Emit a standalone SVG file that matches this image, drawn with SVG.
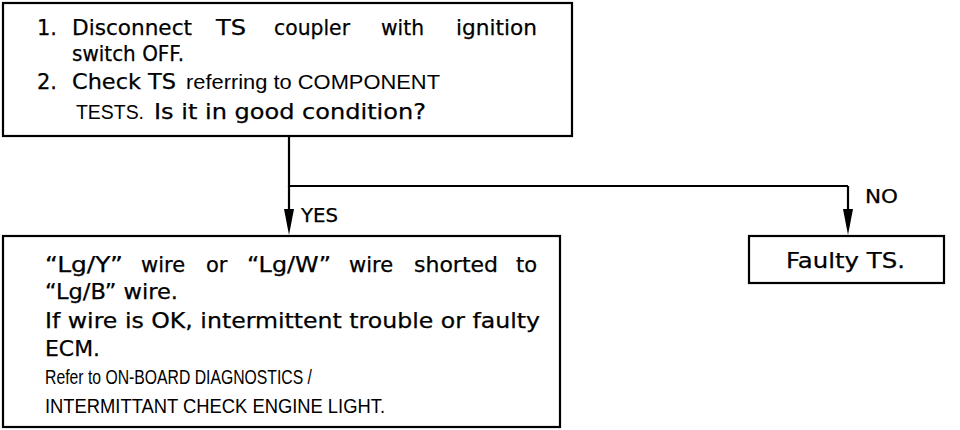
<svg xmlns="http://www.w3.org/2000/svg" width="960" height="430" viewBox="0 0 960 430">
<defs>
<style>
.box{fill:#fff;stroke:#000;stroke-width:2.2}
.t{font-family:"DejaVu Sans","Liberation Sans",Arial,sans-serif;font-size:21px;fill:#000;stroke:#000;stroke-width:0.25}
.a{font-family:"Liberation Sans",Arial,sans-serif;fill:#000}
.ln{stroke:#000;stroke-width:2.2;fill:none}
.ah{fill:#000}
</style>
</defs>
<rect width="960" height="430" fill="#fff"/>
<g id="check">
<rect class="box" x="3" y="3" width="569" height="133"/>
<text class="t" y="35"><tspan x="37">1.</tspan><tspan x="72" textLength="120" lengthAdjust="spacingAndGlyphs">Disconnect</tspan><tspan x="216" textLength="30" lengthAdjust="spacingAndGlyphs">TS</tspan><tspan x="274" textLength="76" lengthAdjust="spacingAndGlyphs">coupler</tspan><tspan x="381" textLength="43" lengthAdjust="spacingAndGlyphs">with</tspan><tspan x="456" textLength="81" lengthAdjust="spacingAndGlyphs">ignition</tspan></text>
<text class="t" x="72" y="61" textLength="112" lengthAdjust="spacingAndGlyphs">switch OFF.</text>
<text class="t" y="89"><tspan x="37">2.</tspan><tspan x="72" textLength="104" lengthAdjust="spacingAndGlyphs">Check TS</tspan></text>
<text class="a" x="186" y="89" font-size="21" textLength="254" lengthAdjust="spacingAndGlyphs">referring to COMPONENT</text>
<text class="a" x="76" y="119" font-size="21" textLength="68" lengthAdjust="spacingAndGlyphs">TESTS.</text>
<text class="t" x="154" y="119" textLength="272" lengthAdjust="spacingAndGlyphs">Is it in good condition?</text>
</g>
<g id="connectors">
<path class="ln" d="M289,136 V186 H848"/>
<path class="ln" d="M289,186 V214"/>
<polygon class="ah" points="284,209 294,209 289,235"/>
<path class="ln" d="M848,186 V214"/>
<polygon class="ah" points="843,209 853,209 848,235"/>
<text class="t" x="301" y="222" style="font-size:19px" textLength="37" lengthAdjust="spacingAndGlyphs">YES</text>
<text class="t" x="865" y="203" style="font-size:19px" textLength="33" lengthAdjust="spacingAndGlyphs">NO</text>
</g>
<g id="yes">
<rect class="box" x="3" y="236" width="557" height="191"/>
<text class="t" y="272"><tspan x="45" textLength="78" lengthAdjust="spacingAndGlyphs">“Lg/Y”</tspan><tspan x="141">wire</tspan><tspan x="206">or</tspan><tspan x="247" textLength="84" lengthAdjust="spacingAndGlyphs">“Lg/W”</tspan><tspan x="349">wire</tspan><tspan x="414" textLength="84" lengthAdjust="spacingAndGlyphs">shorted</tspan><tspan x="516">to</tspan></text>
<text class="t" x="45" y="299" textLength="133" lengthAdjust="spacingAndGlyphs">“Lg/B” wire.</text>
<text class="t" x="45" y="328" textLength="495" lengthAdjust="spacingAndGlyphs">If wire is OK, intermittent trouble or faulty</text>
<text class="t" x="45" y="356" textLength="55" lengthAdjust="spacingAndGlyphs">ECM.</text>
<text class="a" x="45" y="384" font-size="19.5" textLength="267" lengthAdjust="spacingAndGlyphs">Refer to ON-BOARD DIAGNOSTICS /</text>
<text class="a" x="45" y="413" font-size="19.5" textLength="340" lengthAdjust="spacingAndGlyphs">INTERMITTANT CHECK ENGINE LIGHT.</text>
</g>
<g id="no">
<rect class="box" x="749" y="236" width="195" height="47"/>
<text class="t" x="786" y="268" textLength="119" lengthAdjust="spacingAndGlyphs">Faulty TS.</text>
</g>
</svg>
